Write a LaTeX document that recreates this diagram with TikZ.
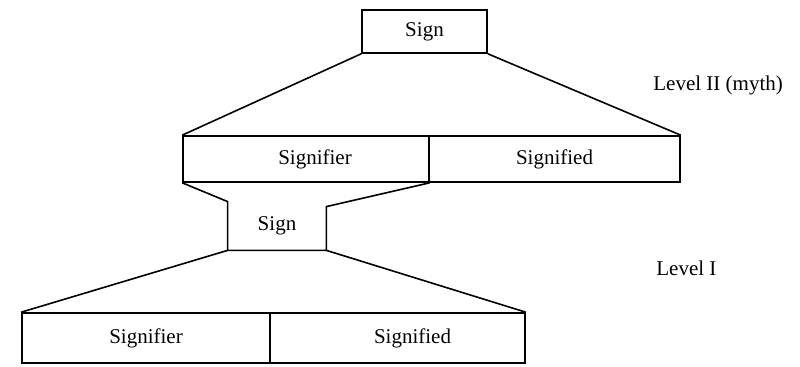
\documentclass[tikz,border=0pt]{standalone}
\usepackage{fontspec}
\setmainfont{Liberation Serif}
\begin{document}
\begin{tikzpicture}[x=0.5pt,y=-0.5pt,
  box/.style={draw, line width=0.8pt, rectangle, inner sep=0pt, font=\fontsize{10.5}{12}\selectfont},
  plain/.style={inner sep=0pt, font=\fontsize{10.5}{12}\selectfont},
  lbl/.style={inner sep=0pt, anchor=west, font=\fontsize{10.5}{12}\selectfont},
  conn/.style={line width=0.8pt, line join=miter}]
\useasboundingbox (0,0) rectangle (800,367);
% Level II
\node[box, minimum width=62.5pt, minimum height=21.5pt] (top) at (424.5,31.5) {Sign};
\node[box, minimum width=123pt, minimum height=23pt] (mSr) at (306,159) {\hspace{9pt}Signifier};
\node[box, minimum width=125.5pt, minimum height=23pt] (mSd) at (554.5,159) {Signified\hspace{9pt}};
% Level I sign (open top)
\node[plain, minimum width=49pt, minimum height=24pt] (sign1) at (277,226) {Sign};
\coordinate (s1ne) at ([yshift=-2.5pt]sign1.north east);
% Level I
\node[box, minimum width=124pt, minimum height=25pt] (bSr) at (146,338) {Signifier};
\node[box, minimum width=127.5pt, minimum height=25pt] (bSd) at (397.5,338) {\hspace{15pt}Signified};
% labels
\node[lbl] (lv2) at (653,85) {Level II (myth)};
\node[lbl] (lv1) at (656,268) {Level I};
% connectors
\draw[conn] (top.south west) -- (mSr.north west);
\draw[conn] (top.south east) -- (mSd.north east);
\draw[conn] (mSr.south west) -- (sign1.north west) -- (sign1.south west) -- (sign1.south east) -- (s1ne) -- (mSr.south east);
\draw[conn] (sign1.south west) -- (bSr.north west);
\draw[conn] (sign1.south east) -- (bSd.north east);
\end{tikzpicture}
\end{document}
